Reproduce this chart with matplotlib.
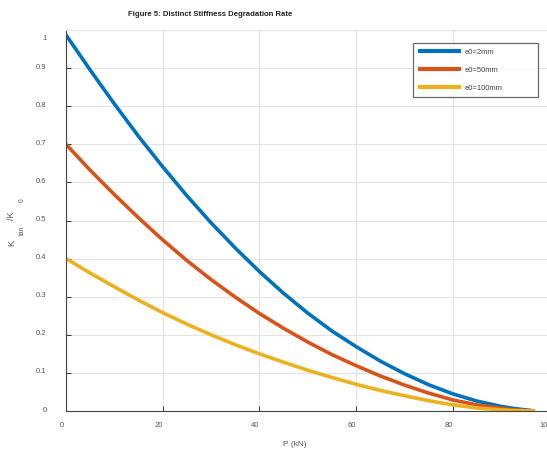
import matplotlib
matplotlib.use("Agg")
import matplotlib.pyplot as plt
import matplotlib.transforms as mtransforms

plt.rcParams["font.family"] = ["Liberation Sans", "DejaVu Sans"]

# values
load_kn = [0, 5, 10, 15, 20, 25, 30, 35, 40, 45, 50, 55, 60, 65, 70, 75, 80, 85, 90, 93, 97]
k_e2 = [0.987, 0.895, 0.806, 0.721, 0.641, 0.565, 0.494, 0.428, 0.366, 0.309, 0.257,
        0.210, 0.169, 0.131, 0.098, 0.069, 0.045, 0.026, 0.012, 0.006, 0.0]
k_e50 = [0.700, 0.632, 0.568, 0.507, 0.449, 0.395, 0.345, 0.299, 0.256, 0.217, 0.181,
         0.148, 0.119, 0.092, 0.068, 0.047, 0.029, 0.016, 0.007, 0.003, 0.0]
k_e100 = [0.400, 0.362, 0.326, 0.291, 0.258, 0.228, 0.200, 0.174, 0.150, 0.128, 0.107,
          0.088, 0.070, 0.054, 0.040, 0.027, 0.016, 0.008, 0.003, 0.001, 0.0]
series_labels = ["e0=2mm", "e0=50mm", "e0=100mm"]
colors = ["#0072BD", "#D95319", "#EDB120"]

W, H = 547, 450
fig = plt.figure(figsize=(W / 100, H / 100), dpi=100)
ax = fig.add_axes([66 / W, 1 - 411 / H, 483.5 / W, 381 / H])

for y, lab, c in zip([k_e2, k_e50, k_e100], series_labels, colors):
    ax.plot(load_kn, y, color=c, lw=2.6, label=lab, solid_capstyle="butt")

ax.set_xlim(0, 100)
ax.set_ylim(0, 1)
ax.set_xticks([0, 20, 40, 60, 80, 100])
ax.set_yticks([0, 0.1, 0.2, 0.3, 0.4, 0.5, 0.6, 0.7, 0.8, 0.9, 1])
ax.set_yticklabels(["0", "0.1", "0.2", "0.3", "0.4", "0.5", "0.6", "0.7", "0.8", "0.9", "1"])
ax.grid(True, color="#e3e3e3", lw=0.8)
ax.set_axisbelow(True)
ax.tick_params(direction="in", length=3.5, width=0.7, colors="#333333",
               labelsize=5.5, labelcolor="#555555", top=False, right=False)
ax.tick_params(axis="y", pad=14)
ax.tick_params(axis="x", pad=8)
for s in ["left", "bottom"]:
    ax.spines[s].set_color("#444444")
    ax.spines[s].set_linewidth(0.8)
for s in ["top", "right"]:
    ax.spines[s].set_color("#e3e3e3")
    ax.spines[s].set_linewidth(0.8)

# tick labels sit a little off their grid lines in the original export
shift = mtransforms.ScaledTranslation(-4 / 100, 0, fig.dpi_scale_trans)
for lbl in ax.get_xticklabels():
    lbl.set_transform(lbl.get_transform() + shift)
yshift = mtransforms.ScaledTranslation(0, 2 / 100, fig.dpi_scale_trans)
ylabels = ax.get_yticklabels()
for lbl in ylabels[:-1]:
    lbl.set_transform(lbl.get_transform() + yshift)
top_shift = mtransforms.ScaledTranslation(0, -7 / 100, fig.dpi_scale_trans)
ylabels[-1].set_transform(ylabels[-1].get_transform() + top_shift)

leg = ax.legend(loc="upper left", bbox_to_anchor=(413 / W, 1 - 99 / H, 125 / W, 56 / H),
                bbox_transform=fig.transFigure, mode="expand", fontsize=5.5,
                frameon=True, fancybox=False, handlelength=5.6, handletextpad=0.4,
                labelspacing=1.4, borderpad=0.7, borderaxespad=0)
leg.get_frame().set_edgecolor("#444444")
leg.get_frame().set_linewidth(0.9)
for line in leg.get_lines():
    line.set_linewidth(3)
for t in leg.get_texts():
    t.set_color("#444444")

fig.text(210 / W, 1 - 14 / H, "Figure 5: Distinct Stiffness Degradation Rate",
         ha="center", va="center", fontsize=5.6, fontweight="bold", color="#222222")
fig.text(295 / W, 1 - 445 / H, "P (kN)", ha="center", va="center",
         fontsize=6, color="#555555")

# y label pieces placed like the original export
for txt, x, y, fs in [("K", 12, 243, 6.5), ("tan", 22.5, 230, 4.8),
                      ("/K", 12, 216, 6.5), ("0", 22.5, 200, 4.8)]:
    fig.text(x / W, 1 - y / H, txt, rotation=90, ha="center", va="center",
             fontsize=fs, color="#555555")

plt.savefig("out.png", dpi=100)
